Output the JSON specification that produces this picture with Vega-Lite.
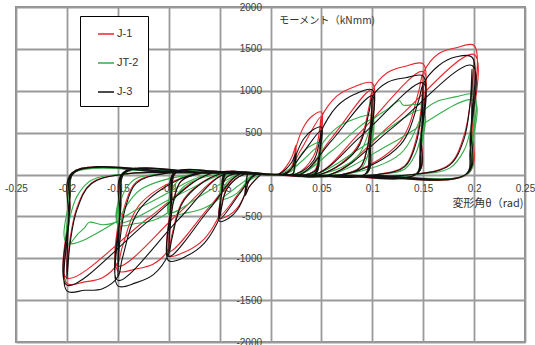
{
"$schema":"https://vega.github.io/schema/vega-lite/v6.json",
"width":509,"height":335,
"autosize":{"type":"none"},
"padding":{"left":16,"top":7,"right":10,"bottom":3},
"background":"white",
"config":{
"view":{"stroke":"#8c8c8c","strokeWidth":2},
"axis":{"grid":true,"gridColor":"#9a9a9a","gridWidth":1.8,"domain":false,"ticks":false,"tickSize":0,"labelFont":"Liberation Sans","labelFontSize":10,"labelColor":"#404040","titleFont":"Noto Sans CJK JP","titleFontSize":11,"titleFontWeight":"normal","titleColor":"#333333","labelFlush":false,"labelOverlap":false,"labelBound":false}
},
"datasets":{
"j1":[
{"x":0,"y":0},{"x":0.008,"y":5},{"x":0.015,"y":88},{"x":0.021,"y":210},{"x":0.025,"y":350},{"x":0.0235,"y":105},{"x":0.022,"y":10},{"x":0.01,"y":-5},{"x":0,"y":0},
{"x":-0.008,"y":5},{"x":-0.015,"y":-63},{"x":-0.021,"y":-150},{"x":-0.025,"y":-250},{"x":-0.0235,"y":-75},{"x":-0.022,"y":10},{"x":-0.01,"y":10},{"x":0,"y":0},
{"x":0.0125,"y":5},{"x":0.021,"y":105},{"x":0.024,"y":263},{"x":0.025,"y":322},{"x":0.0325,"y":567},{"x":0.041,"y":698},{"x":0.05,"y":745},{"x":0.048,"y":298},{"x":0.045,"y":20},{"x":0.025,"y":-10},{"x":0,"y":-5},
{"x":-0.0125,"y":5},{"x":-0.021,"y":-75},{"x":-0.024,"y":-188},{"x":-0.025,"y":-230},{"x":-0.0325,"y":-399},{"x":-0.041,"y":-488},{"x":-0.05,"y":-520},{"x":-0.048,"y":-208},{"x":-0.045,"y":20},{"x":-0.025,"y":25},{"x":0,"y":5},
{"x":0.015,"y":5},{"x":0.03,"y":298},{"x":0.05,"y":693},{"x":0.047,"y":224},{"x":0.044,"y":10},{"x":0.02,"y":-10},{"x":0,"y":0},
{"x":-0.015,"y":5},{"x":-0.03,"y":-208},{"x":-0.05,"y":-494},{"x":-0.047,"y":-156},{"x":-0.044,"y":20},{"x":-0.02,"y":20},{"x":0,"y":5},
{"x":0.035,"y":0},{"x":0.044,"y":60},{"x":0.0475,"y":224},{"x":0.049,"y":447},{"x":0.05,"y":670},{"x":0.047,"y":149},{"x":0.043,"y":5},{"x":0.02,"y":-10},{"x":0,"y":0},
{"x":-0.035,"y":10},{"x":-0.044,"y":-42},{"x":-0.0475,"y":-156},{"x":-0.049,"y":-312},{"x":-0.05,"y":-478},{"x":-0.047,"y":-104},{"x":-0.043,"y":20},{"x":-0.02,"y":25},{"x":0,"y":5},
{"x":0.025,"y":5},{"x":0.0425,"y":224},{"x":0.0485,"y":559},{"x":0.05,"y":685},{"x":0.065,"y":935},{"x":0.0825,"y":1049},{"x":0.1,"y":1090},{"x":0.098,"y":436},{"x":0.095,"y":20},{"x":0.05,"y":-10},{"x":0,"y":-5},
{"x":-0.025,"y":5},{"x":-0.0425,"y":-156},{"x":-0.0485,"y":-390},{"x":-0.05,"y":-478},{"x":-0.065,"y":-768},{"x":-0.0825,"y":-916},{"x":-0.1,"y":-970},{"x":-0.098,"y":-388},{"x":-0.095,"y":20},{"x":-0.05,"y":25},{"x":0,"y":5},
{"x":0.03,"y":5},{"x":0.06,"y":436},{"x":0.1,"y":1014},{"x":0.097,"y":327},{"x":0.094,"y":10},{"x":0.04,"y":-10},{"x":0,"y":0},
{"x":-0.03,"y":5},{"x":-0.06,"y":-388},{"x":-0.1,"y":-922},{"x":-0.097,"y":-291},{"x":-0.094,"y":20},{"x":-0.04,"y":20},{"x":0,"y":5},
{"x":0.07,"y":0},{"x":0.088,"y":87},{"x":0.095,"y":327},{"x":0.0985,"y":654},{"x":0.1,"y":981},{"x":0.097,"y":218},{"x":0.093,"y":5},{"x":0.04,"y":-10},{"x":0,"y":0},
{"x":-0.07,"y":10},{"x":-0.088,"y":-78},{"x":-0.095,"y":-291},{"x":-0.0985,"y":-582},{"x":-0.1,"y":-873},{"x":-0.097,"y":-194},{"x":-0.093,"y":20},{"x":-0.04,"y":25},{"x":0,"y":5},
{"x":0.05,"y":5},{"x":0.085,"y":327},{"x":0.097,"y":818},{"x":0.1,"y":1003},{"x":0.115,"y":1217},{"x":0.1325,"y":1292},{"x":0.15,"y":1320},{"x":0.148,"y":528},{"x":0.145,"y":20},{"x":0.075,"y":-10},{"x":0,"y":-5},
{"x":-0.05,"y":5},{"x":-0.085,"y":-291},{"x":-0.097,"y":-728},{"x":-0.1,"y":-892},{"x":-0.115,"y":-1069},{"x":-0.1325,"y":-1128},{"x":-0.15,"y":-1150},{"x":-0.148,"y":-460},{"x":-0.145,"y":20},{"x":-0.075,"y":25},{"x":0,"y":5},
{"x":0.045,"y":5},{"x":0.09,"y":528},{"x":0.15,"y":1228},{"x":0.147,"y":396},{"x":0.144,"y":10},{"x":0.06,"y":-10},{"x":0,"y":0},
{"x":-0.045,"y":5},{"x":-0.09,"y":-460},{"x":-0.15,"y":-1093},{"x":-0.147,"y":-345},{"x":-0.144,"y":20},{"x":-0.06,"y":20},{"x":0,"y":5},
{"x":0.105,"y":0},{"x":0.132,"y":106},{"x":0.1425,"y":396},{"x":0.148,"y":792},{"x":0.15,"y":1188},{"x":0.147,"y":264},{"x":0.143,"y":5},{"x":0.06,"y":-10},{"x":0,"y":0},
{"x":-0.105,"y":10},{"x":-0.132,"y":-92},{"x":-0.1425,"y":-345},{"x":-0.148,"y":-690},{"x":-0.15,"y":-1035},{"x":-0.147,"y":-230},{"x":-0.143,"y":20},{"x":-0.06,"y":25},{"x":0,"y":5},
{"x":0.075,"y":5},{"x":0.1275,"y":396},{"x":0.1455,"y":990},{"x":0.15,"y":1214},{"x":0.165,"y":1441},{"x":0.1825,"y":1514},{"x":0.2,"y":1540},{"x":0.198,"y":616},{"x":0.195,"y":20},{"x":0.1,"y":-10},{"x":0,"y":-5},
{"x":-0.075,"y":5},{"x":-0.1275,"y":-345},{"x":-0.1455,"y":-863},{"x":-0.15,"y":-1058},{"x":-0.165,"y":-1233},{"x":-0.1825,"y":-1282},{"x":-0.2,"y":-1300},{"x":-0.198,"y":-520},{"x":-0.195,"y":20},{"x":-0.1,"y":25},{"x":0,"y":5},
{"x":0.06,"y":5},{"x":0.12,"y":616},{"x":0.2,"y":1432},{"x":0.197,"y":462},{"x":0.194,"y":10},{"x":0.08,"y":-10},{"x":0,"y":0},
{"x":-0.06,"y":5},{"x":-0.12,"y":-520},{"x":-0.2,"y":-1235},{"x":-0.197,"y":-390},{"x":-0.194,"y":20},{"x":-0.08,"y":20},{"x":0,"y":5},
{"x":0.14,"y":0},{"x":0.176,"y":123},{"x":0.19,"y":462},{"x":0.197,"y":924},{"x":0.2,"y":1386},{"x":0.197,"y":308},{"x":0.193,"y":5},{"x":0.08,"y":-10},{"x":0,"y":0},
{"x":-0.14,"y":10},{"x":-0.176,"y":-104},{"x":-0.19,"y":-390},{"x":-0.197,"y":-780},{"x":-0.2,"y":-1170},{"x":-0.197,"y":-260},{"x":-0.193,"y":20},{"x":-0.08,"y":25},{"x":0,"y":5}
],
"j2":[
{"x":0,"y":0},{"x":0.008,"y":5},{"x":0.015,"y":38},{"x":0.021,"y":90},{"x":0.025,"y":150},{"x":0.0235,"y":45},{"x":0.022,"y":10},{"x":0.01,"y":-5},{"x":0,"y":0},
{"x":-0.008,"y":5},{"x":-0.015,"y":-30},{"x":-0.021,"y":-72},{"x":-0.025,"y":-120},{"x":-0.0235,"y":-36},{"x":-0.022,"y":10},{"x":-0.01,"y":10},{"x":0,"y":0},
{"x":0.0125,"y":5},{"x":0.021,"y":45},{"x":0.024,"y":113},{"x":0.025,"y":138},{"x":0.0325,"y":277},{"x":0.041,"y":352},{"x":0.05,"y":380},{"x":0.048,"y":152},{"x":0.045,"y":20},{"x":0.025,"y":-10},{"x":0,"y":-5},
{"x":-0.0125,"y":5},{"x":-0.021,"y":-36},{"x":-0.024,"y":-90},{"x":-0.025,"y":-110},{"x":-0.0325,"y":-219},{"x":-0.041,"y":-278},{"x":-0.05,"y":-300},{"x":-0.048,"y":-120},{"x":-0.045,"y":20},{"x":-0.025,"y":25},{"x":0,"y":5},
{"x":0.015,"y":5},{"x":0.03,"y":152},{"x":0.05,"y":353},{"x":0.047,"y":114},{"x":0.044,"y":10},{"x":0.02,"y":-10},{"x":0,"y":0},
{"x":-0.015,"y":5},{"x":-0.03,"y":-120},{"x":-0.05,"y":-285},{"x":-0.047,"y":-90},{"x":-0.044,"y":20},{"x":-0.02,"y":20},{"x":0,"y":5},
{"x":0.035,"y":0},{"x":0.044,"y":30},{"x":0.0475,"y":114},{"x":0.049,"y":228},{"x":0.05,"y":342},{"x":0.047,"y":76},{"x":0.043,"y":5},{"x":0.02,"y":-10},{"x":0,"y":0},
{"x":-0.035,"y":10},{"x":-0.044,"y":-24},{"x":-0.0475,"y":-90},{"x":-0.049,"y":-180},{"x":-0.05,"y":-276},{"x":-0.047,"y":-60},{"x":-0.043,"y":20},{"x":-0.02,"y":25},{"x":0,"y":5},
{"x":0.025,"y":5},{"x":0.0425,"y":114},{"x":0.0485,"y":285},{"x":0.05,"y":350},{"x":0.065,"y":556},{"x":0.0825,"y":662},{"x":0.1,"y":700},{"x":0.098,"y":280},{"x":0.095,"y":20},{"x":0.05,"y":-10},{"x":0,"y":-5},
{"x":-0.025,"y":5},{"x":-0.0425,"y":-90},{"x":-0.0485,"y":-225},{"x":-0.05,"y":-276},{"x":-0.065,"y":-399},{"x":-0.0825,"y":-458},{"x":-0.1,"y":-480},{"x":-0.098,"y":-192},{"x":-0.095,"y":20},{"x":-0.05,"y":25},{"x":0,"y":5},
{"x":0.03,"y":5},{"x":0.06,"y":280},{"x":0.1,"y":651},{"x":0.097,"y":210},{"x":0.094,"y":10},{"x":0.04,"y":-10},{"x":0,"y":0},
{"x":-0.03,"y":5},{"x":-0.06,"y":-192},{"x":-0.1,"y":-456},{"x":-0.097,"y":-144},{"x":-0.094,"y":20},{"x":-0.04,"y":20},{"x":0,"y":5},
{"x":0.07,"y":0},{"x":0.088,"y":56},{"x":0.095,"y":210},{"x":0.0985,"y":420},{"x":0.1,"y":630},{"x":0.097,"y":140},{"x":0.093,"y":5},{"x":0.04,"y":-10},{"x":0,"y":0},
{"x":-0.07,"y":10},{"x":-0.088,"y":-38},{"x":-0.095,"y":-144},{"x":-0.0985,"y":-288},{"x":-0.1,"y":-442},{"x":-0.097,"y":-96},{"x":-0.093,"y":20},{"x":-0.04,"y":25},{"x":0,"y":5},
{"x":0.05,"y":5},{"x":0.085,"y":210},{"x":0.097,"y":525},{"x":0.1,"y":644},{"x":0.115,"y":780},{"x":0.127,"y":880},{"x":0.13,"y":830},{"x":0.15,"y":820},{"x":0.148,"y":328},{"x":0.145,"y":20},{"x":0.075,"y":-10},{"x":0,"y":-5},
{"x":-0.05,"y":5},{"x":-0.085,"y":-144},{"x":-0.097,"y":-360},{"x":-0.1,"y":-442},{"x":-0.115,"y":-546},{"x":-0.1325,"y":-586},{"x":-0.15,"y":-600},{"x":-0.148,"y":-240},{"x":-0.145,"y":20},{"x":-0.075,"y":25},{"x":0,"y":5},
{"x":0.045,"y":5},{"x":0.09,"y":328},{"x":0.15,"y":763},{"x":0.147,"y":246},{"x":0.144,"y":10},{"x":0.06,"y":-10},{"x":0,"y":0},
{"x":-0.045,"y":5},{"x":-0.09,"y":-240},{"x":-0.15,"y":-570},{"x":-0.147,"y":-180},{"x":-0.144,"y":20},{"x":-0.06,"y":20},{"x":0,"y":5},
{"x":0.105,"y":0},{"x":0.132,"y":66},{"x":0.1425,"y":246},{"x":0.148,"y":492},{"x":0.15,"y":738},{"x":0.147,"y":164},{"x":0.143,"y":5},{"x":0.06,"y":-10},{"x":0,"y":0},
{"x":-0.105,"y":10},{"x":-0.132,"y":-48},{"x":-0.1425,"y":-180},{"x":-0.148,"y":-360},{"x":-0.15,"y":-552},{"x":-0.147,"y":-120},{"x":-0.143,"y":20},{"x":-0.06,"y":25},{"x":0,"y":5},
{"x":0.075,"y":5},{"x":0.1275,"y":246},{"x":0.1455,"y":615},{"x":0.15,"y":754},{"x":0.165,"y":880},{"x":0.173,"y":905},{"x":0.1825,"y":930},{"x":0.2,"y":950},{"x":0.198,"y":380},{"x":0.195,"y":20},{"x":0.1,"y":-10},{"x":0,"y":-5},
{"x":-0.075,"y":5},{"x":-0.1275,"y":-180},{"x":-0.1455,"y":-450},{"x":-0.15,"y":-552},{"x":-0.165,"y":-600},{"x":-0.178,"y":-570},{"x":-0.183,"y":-640},{"x":-0.19,"y":-720},{"x":-0.2,"y":-860},{"x":-0.198,"y":-344},{"x":-0.195,"y":20},{"x":-0.1,"y":25},{"x":0,"y":5},
{"x":0.06,"y":5},{"x":0.12,"y":380},{"x":0.2,"y":884},{"x":0.197,"y":285},{"x":0.194,"y":10},{"x":0.08,"y":-10},{"x":0,"y":0},
{"x":-0.06,"y":5},{"x":-0.12,"y":-344},{"x":-0.2,"y":-817},{"x":-0.197,"y":-258},{"x":-0.194,"y":20},{"x":-0.08,"y":20},{"x":0,"y":5},
{"x":0.14,"y":0},{"x":0.176,"y":76},{"x":0.19,"y":285},{"x":0.197,"y":570},{"x":0.2,"y":855},{"x":0.197,"y":190},{"x":0.193,"y":5},{"x":0.08,"y":-10},{"x":0,"y":0},
{"x":-0.14,"y":10},{"x":-0.176,"y":-69},{"x":-0.19,"y":-258},{"x":-0.197,"y":-516},{"x":-0.2,"y":-791},{"x":-0.197,"y":-172},{"x":-0.193,"y":20},{"x":-0.08,"y":25},{"x":0,"y":5}
],
"j3":[
{"x":0,"y":0},{"x":0.008,"y":5},{"x":0.015,"y":63},{"x":0.021,"y":150},{"x":0.025,"y":250},{"x":0.0235,"y":75},{"x":0.022,"y":10},{"x":0.01,"y":-5},{"x":0,"y":0},
{"x":-0.008,"y":5},{"x":-0.015,"y":-63},{"x":-0.021,"y":-150},{"x":-0.025,"y":-250},{"x":-0.0235,"y":-75},{"x":-0.022,"y":10},{"x":-0.01,"y":10},{"x":0,"y":0},
{"x":0.0125,"y":5},{"x":0.021,"y":75},{"x":0.024,"y":188},{"x":0.025,"y":230},{"x":0.0325,"y":424},{"x":0.041,"y":528},{"x":0.05,"y":566},{"x":0.048,"y":226},{"x":0.045,"y":20},{"x":0.025,"y":-10},{"x":0,"y":-5},
{"x":-0.0125,"y":5},{"x":-0.021,"y":-75},{"x":-0.024,"y":-188},{"x":-0.025,"y":-230},{"x":-0.0325,"y":-421},{"x":-0.041,"y":-523},{"x":-0.05,"y":-560},{"x":-0.048,"y":-224},{"x":-0.045,"y":20},{"x":-0.025,"y":25},{"x":0,"y":5},
{"x":0.015,"y":5},{"x":0.03,"y":226},{"x":0.05,"y":526},{"x":0.047,"y":170},{"x":0.044,"y":10},{"x":0.02,"y":-10},{"x":0,"y":0},
{"x":-0.015,"y":5},{"x":-0.03,"y":-224},{"x":-0.05,"y":-532},{"x":-0.047,"y":-168},{"x":-0.044,"y":20},{"x":-0.02,"y":20},{"x":0,"y":5},
{"x":0.035,"y":0},{"x":0.044,"y":45},{"x":0.0475,"y":170},{"x":0.049,"y":340},{"x":0.05,"y":509},{"x":0.047,"y":113},{"x":0.043,"y":5},{"x":0.02,"y":-10},{"x":0,"y":0},
{"x":-0.035,"y":10},{"x":-0.044,"y":-45},{"x":-0.0475,"y":-168},{"x":-0.049,"y":-336},{"x":-0.05,"y":-515},{"x":-0.047,"y":-112},{"x":-0.043,"y":20},{"x":-0.02,"y":25},{"x":0,"y":5},
{"x":0.025,"y":5},{"x":0.0425,"y":170},{"x":0.0485,"y":425},{"x":0.05,"y":521},{"x":0.065,"y":810},{"x":0.0825,"y":957},{"x":0.1,"y":1010},{"x":0.098,"y":404},{"x":0.095,"y":20},{"x":0.05,"y":-10},{"x":0,"y":-5},
{"x":-0.025,"y":5},{"x":-0.0425,"y":-168},{"x":-0.0485,"y":-420},{"x":-0.05,"y":-515},{"x":-0.065,"y":-819},{"x":-0.0825,"y":-974},{"x":-0.1,"y":-1030},{"x":-0.098,"y":-412},{"x":-0.095,"y":20},{"x":-0.05,"y":25},{"x":0,"y":5},
{"x":0.03,"y":5},{"x":0.06,"y":404},{"x":0.1,"y":939},{"x":0.097,"y":303},{"x":0.094,"y":10},{"x":0.04,"y":-10},{"x":0,"y":0},
{"x":-0.03,"y":5},{"x":-0.06,"y":-412},{"x":-0.1,"y":-979},{"x":-0.097,"y":-309},{"x":-0.094,"y":20},{"x":-0.04,"y":20},{"x":0,"y":5},
{"x":0.07,"y":0},{"x":0.088,"y":81},{"x":0.095,"y":303},{"x":0.0985,"y":606},{"x":0.1,"y":909},{"x":0.097,"y":202},{"x":0.093,"y":5},{"x":0.04,"y":-10},{"x":0,"y":0},
{"x":-0.07,"y":10},{"x":-0.088,"y":-82},{"x":-0.095,"y":-309},{"x":-0.0985,"y":-618},{"x":-0.1,"y":-948},{"x":-0.097,"y":-206},{"x":-0.093,"y":20},{"x":-0.04,"y":25},{"x":0,"y":5},
{"x":0.05,"y":5},{"x":0.085,"y":303},{"x":0.097,"y":758},{"x":0.1,"y":929},{"x":0.115,"y":1101},{"x":0.1325,"y":1155},{"x":0.15,"y":1175},{"x":0.148,"y":470},{"x":0.145,"y":20},{"x":0.075,"y":-10},{"x":0,"y":-5},
{"x":-0.05,"y":5},{"x":-0.085,"y":-309},{"x":-0.097,"y":-773},{"x":-0.1,"y":-948},{"x":-0.115,"y":-1195},{"x":-0.1325,"y":-1294},{"x":-0.15,"y":-1330},{"x":-0.148,"y":-532},{"x":-0.145,"y":20},{"x":-0.075,"y":25},{"x":0,"y":5},
{"x":0.045,"y":5},{"x":0.09,"y":470},{"x":0.15,"y":1093},{"x":0.147,"y":353},{"x":0.144,"y":10},{"x":0.06,"y":-10},{"x":0,"y":0},
{"x":-0.045,"y":5},{"x":-0.09,"y":-532},{"x":-0.15,"y":-1264},{"x":-0.147,"y":-399},{"x":-0.144,"y":20},{"x":-0.06,"y":20},{"x":0,"y":5},
{"x":0.105,"y":0},{"x":0.132,"y":94},{"x":0.1425,"y":353},{"x":0.148,"y":705},{"x":0.15,"y":1058},{"x":0.147,"y":235},{"x":0.143,"y":5},{"x":0.06,"y":-10},{"x":0,"y":0},
{"x":-0.105,"y":10},{"x":-0.132,"y":-106},{"x":-0.1425,"y":-399},{"x":-0.148,"y":-798},{"x":-0.15,"y":-1224},{"x":-0.147,"y":-266},{"x":-0.143,"y":20},{"x":-0.06,"y":25},{"x":0,"y":5},
{"x":0.075,"y":5},{"x":0.1275,"y":353},{"x":0.1455,"y":881},{"x":0.15,"y":1081},{"x":0.165,"y":1299},{"x":0.1825,"y":1405},{"x":0.198,"y":1400},{"x":0.197,"y":560},{"x":0.194,"y":20},{"x":0.1,"y":-10},{"x":0,"y":-5},
{"x":-0.075,"y":5},{"x":-0.1275,"y":-399},{"x":-0.1455,"y":-998},{"x":-0.15,"y":-1224},{"x":-0.165,"y":-1363},{"x":-0.1825,"y":-1383},{"x":-0.2,"y":-1390},{"x":-0.198,"y":-556},{"x":-0.195,"y":20},{"x":-0.1,"y":25},{"x":0,"y":5},
{"x":0.06,"y":5},{"x":0.12,"y":560},{"x":0.198,"y":1302},{"x":0.196,"y":420},{"x":0.193,"y":10},{"x":0.08,"y":-10},{"x":0,"y":0},
{"x":-0.06,"y":5},{"x":-0.12,"y":-556},{"x":-0.2,"y":-1321},{"x":-0.197,"y":-417},{"x":-0.194,"y":20},{"x":-0.08,"y":20},{"x":0,"y":5},
{"x":0.14,"y":0},{"x":0.176,"y":112},{"x":0.19,"y":420},{"x":0.196,"y":840},{"x":0.198,"y":1260},{"x":0.196,"y":280},{"x":0.192,"y":5},{"x":0.08,"y":-10},{"x":0,"y":0},
{"x":-0.14,"y":10},{"x":-0.176,"y":-111},{"x":-0.19,"y":-417},{"x":-0.197,"y":-834},{"x":-0.2,"y":-1251},{"x":-0.197,"y":-278},{"x":-0.193,"y":20},{"x":-0.08,"y":25},{"x":0,"y":5}
]
},
"layer":[
{"data":{"name":"j1"},"mark":{"type":"line","strokeWidth":1.1,"interpolate":"catmull-rom"},
"encoding":{
"x":{"field":"x","type":"quantitative","scale":{"domain":[-0.25,0.25],"nice":false,"zero":false},
"axis":{"orient":"bottom","offset":-167.5,"values":[-0.25,-0.2,-0.15,-0.1,-0.05,0,0.05,0.1,0.15,0.2,0.25],"labelExpr":"replace(format(datum.value,'~g'),'\u2212','-')","labelPadding":9,"labelBaseline":"top","title":"変形角θ（rad)","titleX":507,"titleY":28.5,"titleAlign":"right","titleBaseline":"middle","titleAngle":0}},
"y":{"field":"y","type":"quantitative","scale":{"domain":[-2000,2000],"nice":false,"zero":false},
"axis":{"orient":"left","offset":-254.5,"values":[-2000,-1500,-1000,-500,0,500,1000,1500,2000],"labelExpr":"datum.value==0?'':replace(format(datum.value,'~g'),'\u2212','-')","labelPadding":9,"title":"モーメント（kNmm)","titleFontSize":10.2,"titleX":8,"titleY":13,"titleAlign":"left","titleBaseline":"middle","titleAngle":0}},
"color":{"datum":"J-1","type":"nominal","scale":{"domain":["J-1","JT-2","J-3"],"range":["#e8252b","#36ad4a","#111111"]},
"legend":{"orient":"none","legendX":64,"legendY":9,"title":null,"symbolType":"stroke","symbolSize":256,"symbolStrokeWidth":1.5,"labelFont":"Liberation Sans","labelFontSize":11,"labelColor":"#333333","strokeColor":"#000000","fillColor":"#ffffff","padding":9,"rowPadding":15,"labelOffset":2,"symbolOffset":8}},
"order":{"value":null}}},
{"data":{"name":"j2"},"mark":{"type":"line","strokeWidth":1.1,"interpolate":"catmull-rom"},
"encoding":{"x":{"field":"x","type":"quantitative"},"y":{"field":"y","type":"quantitative"},"color":{"datum":"JT-2","type":"nominal"},"order":{"value":null}}},
{"data":{"name":"j3"},"mark":{"type":"line","strokeWidth":1.1,"interpolate":"catmull-rom"},
"encoding":{"x":{"field":"x","type":"quantitative"},"y":{"field":"y","type":"quantitative"},"color":{"datum":"J-3","type":"nominal"},"order":{"value":null}}}
]
}
